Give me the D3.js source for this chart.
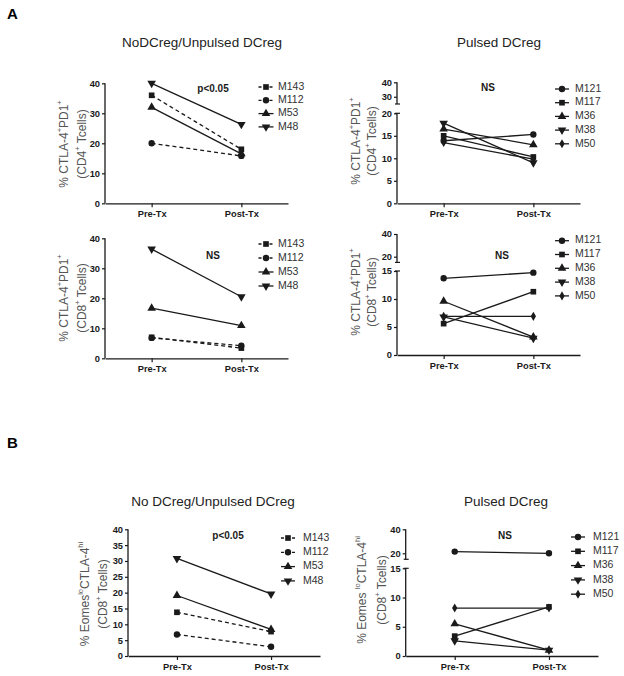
<!DOCTYPE html>
<html><head><meta charset="utf-8">
<script src="https://cdn.jsdelivr.net/npm/d3@7"></script>
<style>body{margin:0;background:#fff;}svg{display:block;font-family:"Liberation Sans",Arial,sans-serif;}</style>
</head><body>
<svg id="c" width="624" height="676"></svg>
<script>
// ---------- data ----------
const timepoints = ["Pre-Tx", "Post-Tx"];
const groupA = ["M143", "M112", "M53", "M48"];
const groupB = ["M121", "M117", "M36", "M38", "M50"];
const dashedA = [true, true, false, false];
const dashedB = [false, false, false, false, false];
const symbolsA = ["square", "circle", "triangle", "down"];
const symbolsB = ["circle", "square", "triangle", "down", "diamond"];

// A, CD4, NoDCreg/Unpulsed
const cd4NoPre  = [36, 20, 32, 40];
const cd4NoPost = [18, 15.8, 16.5, 26.3];
// A, CD4, Pulsed
const cd4PuPre  = [13.9, 15.0, 16.5, 17.8, 13.5];
const cd4PuPost = [15.3, 10.3, 13.0, 9.0, 9.8];
// A, CD8, NoDCreg/Unpulsed
const cd8NoPre  = [7.0, 6.8, 16.7, 36.4];
const cd8NoPost = [3.4, 4.2, 10.9, 20.5];
// A, CD8, Pulsed
const cd8PuPre  = [13.7, 5.6, 9.6, 6.8, 6.9];
const cd8PuPost = [14.7, 11.3, 3.2, 3.0, 6.9];
// B, Eomes lo CTLA-4 hi, NoDCreg/Unpulsed
const eoNoPre  = [13.8, 6.8, 19.1, 30.8];
const eoNoPost = [7.7, 2.9, 8.4, 19.6];
// B, Eomes lo CTLA-4 hi, Pulsed
const eoPuPre  = [21.4, 3.4, 5.5, 2.6, 8.2];
const eoPuPost = [20.0, 8.4, 1.0, 1.0, 8.2];

const ticks0to40by10 = [0, 10, 20, 30, 40];
const ticks0to40by5 = [0, 5, 10, 15, 20, 25, 30, 35, 40];
const ticksBrk20 = [0, 5, 10, 15, 20, 30, 40];
const ticksBrk15 = [0, 5, 10, 15, 20, 40];

const labelCD4 = [["% CTLA-4",""],["+","s"],["PD1",""],["+","s"]];
const labelCD4b = [["(CD4",""],["+","s"],[" Tcells)",""]];
const labelCD8b = [["(CD8",""],["+","s"],[" Tcells)",""]];
const labelEo = [["% Eomes",""],["lo","s"],["CTLA-4",""],["hi","s"]];
const labelEoR = [["% Eomes ",""],["lo","s"],["CTLA-4",""],["hi","s"]];

// ---------- layout ----------
const panels = [
  {names: groupA, pre: cd4NoPre, post: cd4NoPost, dashed: dashedA, sym: symbolsA,
   ax: 105, xEnd: 288, yDomain: [0, 40], yRange: [203.3, 83.3], ticks: ticks0to40by10, segs: [[0, 40]],
   title: "NoDCreg/Unpulsed DCreg", titleX: 202, titleY: 43, stat: "p<0.05", statX: 213, statY: 89,
   legX: 266, legHalf: 7.5, legTextX: 278, legY: 87, legDy: 13.3,
   lab1: labelCD4, lab2: labelCD4b, labX1: 65, labX2: 83, labY: 144},
  {names: groupB, pre: cd4PuPre, post: cd4PuPost, dashed: dashedB, sym: symbolsB,
   ax: 397, xEnd: 580, yDomain: [0, 20, 25, 40], yRange: [203.3, 113.3, 104, 82.3], ticks: ticksBrk20, segs: [[0, 20], [25, 40]],
   title: "Pulsed DCreg", titleX: 499, titleY: 43, stat: "NS", statX: 488, statY: 88,
   legX: 562, legHalf: 7, legTextX: 575, legY: 89, legDy: 13.7,
   lab1: labelCD4, lab2: labelCD4b, labX1: 357, labX2: 373, labY: 141},
  {names: groupA, pre: cd8NoPre, post: cd8NoPost, dashed: dashedA, sym: symbolsA,
   ax: 105, xEnd: 288, yDomain: [0, 40], yRange: [358.3, 238.3], ticks: ticks0to40by10, segs: [[0, 40]],
   stat: "NS", statX: 213, statY: 256,
   legX: 266, legHalf: 7.5, legTextX: 278, legY: 244, legDy: 14,
   lab1: labelCD4, lab2: labelCD8b, labX1: 65, labX2: 83, labY: 298},
  {names: groupB, pre: cd8PuPre, post: cd8PuPost, dashed: dashedB, sym: symbolsB,
   ax: 397, xEnd: 580, yDomain: [0, 15, 20, 40], yRange: [355, 271, 256.7, 234], ticks: ticksBrk15, segs: [[0, 15], [18, 40]],
   stat: "NS", statX: 502, statY: 256,
   legX: 562, legHalf: 7, legTextX: 575, legY: 240.7, legDy: 13.8,
   lab1: labelCD4, lab2: labelCD8b, labX1: 357, labX2: 373, labY: 292},
  {names: groupA, pre: eoNoPre, post: eoNoPost, dashed: dashedA, sym: symbolsA,
   ax: 128, xEnd: 320, yDomain: [0, 40], yRange: [656, 529.3], ticks: ticks0to40by5, segs: [[0, 40]],
   title: "No DCreg/Unpulsed DCreg", titleX: 213, titleY: 502, stat: "p<0.05", statX: 228, statY: 536,
   legX: 288, legHalf: 7, legTextX: 303, legY: 538, legDy: 14.3,
   lab1: labelEo, lab2: labelCD8b, labX1: 86, labX2: 104, labY: 594},
  {names: groupB, pre: eoPuPre, post: eoPuPost, dashed: dashedB, sym: symbolsB,
   ax: 405.7, xEnd: 598, yDomain: [0, 15, 20, 40], yRange: [656, 568.3, 553.3, 529.3], ticks: ticksBrk15, segs: [[0, 15], [18, 40]],
   title: "Pulsed DCreg", titleX: 506, titleY: 502, stat: "NS", statX: 505, statY: 536,
   legX: 578, legHalf: 7, legTextX: 593, legY: 537, legDy: 14.3,
   lab1: labelEoR, lab2: labelCD8b, labX1: 363, labX2: 383, labY: 590}
];

const symType = {square: d3.symbolSquare, circle: d3.symbolCircle, triangle: d3.symbolTriangle, down: d3.symbolTriangle, diamond: d3.symbolDiamond};
const symSize = {square: 32, circle: 32, triangle: 32, down: 32, diamond: 24};
const ink = "#1a1a1a";

const svg = d3.select("#c");

svg.append("text").attr("x", 7).attr("y", 19).text("A")
  .attr("font-weight", "bold").attr("font-size", 15).attr("fill", "#000");
svg.append("text").attr("x", 7).attr("y", 448).text("B")
  .attr("font-weight", "bold").attr("font-size", 15).attr("fill", "#000");

function drawSymbol(g, kind, cx, cy) {
  const rot = kind === "down" ? 180 : 0;
  g.append("path").attr("d", d3.symbol().type(symType[kind]).size(symSize[kind])())
    .attr("transform", `translate(${cx},${cy}) rotate(${rot})`)
    .attr("fill", ink);
}

function richText(g, parts, x, y, size) {
  const t = g.append("text").attr("transform", `translate(${x},${y}) rotate(-90)`)
    .attr("text-anchor", "middle").attr("dominant-baseline", "middle")
    .attr("font-size", size).attr("fill", "#555");
  parts.forEach(([s, k]) => {
    const ts = t.append("tspan").text(s);
    if (k === "s") ts.attr("baseline-shift", "super").attr("font-size", size * 0.62);
  });
}

panels.forEach(p => {
  const g = svg.append("g");
  const x = d3.scalePoint().domain(timepoints).range([p.ax, p.xEnd]).padding(0.52);
  const y = d3.scaleLinear().domain(p.yDomain).range(p.yRange);

  // y axis
  const gy = g.append("g").attr("transform", `translate(${p.ax},0)`)
    .call(d3.axisLeft(y).tickValues(p.ticks).tickSize(3).tickPadding(2));
  gy.select(".domain").remove();
  gy.selectAll(".tick line").attr("stroke", ink).attr("stroke-width", 1.2);
  gy.selectAll(".tick text").attr("font-size", 9.3).attr("font-weight", "bold").attr("fill", ink)
    .attr("font-family", "'Liberation Sans',Arial,sans-serif");
  const broken = p.segs.length > 1;
  p.segs.forEach(([a, b], i) => {
    g.append("line").attr("x1", p.ax).attr("x2", p.ax).attr("y1", y(a)).attr("y2", y(b))
      .attr("stroke", ink).attr("stroke-width", 1.3);
    if (broken) {
      const capY = i === 0 ? y(b) : y(a);
      g.append("line").attr("x1", p.ax - 2).attr("x2", p.ax + 3).attr("y1", capY).attr("y2", capY)
        .attr("stroke", ink).attr("stroke-width", 1.2);
    }
  });

  // x axis
  const x0 = y.range()[0];
  const gx = g.append("g").attr("transform", `translate(0,${x0})`)
    .call(d3.axisBottom(x).tickSize(4).tickSizeOuter(0).tickPadding(3));
  gx.select(".domain").attr("stroke", ink).attr("stroke-width", 1.3);
  gx.selectAll(".tick line").attr("stroke", ink).attr("stroke-width", 1.2);
  gx.selectAll(".tick text").attr("font-size", 9.3).attr("font-weight", "bold").attr("fill", ink)
    .attr("font-family", "'Liberation Sans',Arial,sans-serif");

  // series
  p.names.forEach((n, i) => {
    g.append("line")
      .attr("x1", x(timepoints[0])).attr("y1", y(p.pre[i]))
      .attr("x2", x(timepoints[1])).attr("y2", y(p.post[i]))
      .attr("stroke", ink).attr("stroke-width", 1.3)
      .attr("stroke-dasharray", p.dashed[i] ? "4,3" : null);
  });
  p.names.forEach((n, i) => {
    drawSymbol(g, p.sym[i], x(timepoints[0]), y(p.pre[i]));
    drawSymbol(g, p.sym[i], x(timepoints[1]), y(p.post[i]));
  });

  // legend
  p.names.forEach((n, i) => {
    const ly = p.legY + i * p.legDy;
    g.append("line").attr("x1", p.legX - p.legHalf).attr("x2", p.legX + p.legHalf)
      .attr("y1", ly).attr("y2", ly).attr("stroke", ink).attr("stroke-width", 1.3)
      .attr("stroke-dasharray", p.dashed[i] ? "3,2.5" : null);
    drawSymbol(g, p.sym[i], p.legX, ly);
    g.append("text").attr("x", p.legTextX).attr("y", ly).attr("dominant-baseline", "middle")
      .attr("font-size", 10.5).attr("fill", "#333").text(n);
  });

  // stat label
  g.append("text").attr("x", p.statX).attr("y", p.statY).attr("text-anchor", "middle")
    .attr("dominant-baseline", "middle").attr("font-size", 10).attr("font-weight", "bold")
    .attr("fill", ink).text(p.stat);

  // title
  if (p.title) {
    g.append("text").attr("x", p.titleX).attr("y", p.titleY).attr("text-anchor", "middle")
      .attr("dominant-baseline", "middle").attr("font-size", 13.5).attr("fill", "#222").text(p.title);
  }

  // y label
  richText(g, p.lab1, p.labX1, p.labY, 12);
  richText(g, p.lab2, p.labX2, p.labY, 12);
});
</script>
</body></html>
